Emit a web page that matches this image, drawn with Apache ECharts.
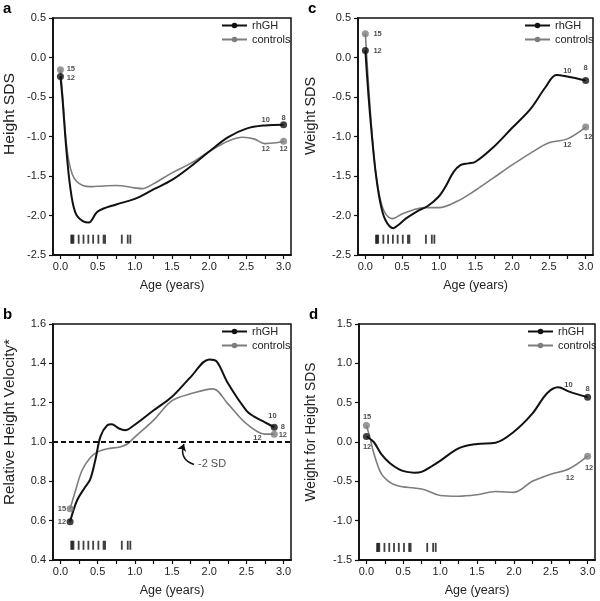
<!DOCTYPE html>
<html>
<head>
<meta charset="utf-8">
<script src="https://cdn.jsdelivr.net/npm/echarts@6/dist/echarts.min.js"></script>
<style>html,body{margin:0;padding:0;background:#fff;}#c{width:600px;height:601px;}</style>
</head>
<body>
<div id="c"></div>
<script>
// ---------- data ----------
const ageTickLabels = [0, 0.5, 1.0, 1.5, 2.0, 2.5, 3.0];
const ageTicks = [0, 0.25, 0.5, 0.75, 1.0, 1.25, 1.5, 1.75, 2.0, 2.25, 2.5, 2.75, 3.0];
const treatmentAges = [0.145, 0.16, 0.175, 0.245, 0.31, 0.375, 0.44, 0.51, 0.58, 0.6, 0.825, 0.905, 0.94];

// a: Height SDS
const aRhAge = [0, 0.03, 0.065, 0.1, 0.13, 0.17, 0.22, 0.3, 0.38, 0.5, 0.75, 1.0, 1.25, 1.5, 1.75, 2.0, 2.25, 2.5, 2.75, 3.0];
const aRhVal = [-0.24, -0.55, -1.0, -1.38, -1.63, -1.86, -2.0, -2.07, -2.09, -1.95, -1.86, -1.79, -1.67, -1.55, -1.38, -1.19, -1.01, -0.9, -0.86, -0.85];
const aCoAge = [0, 0.035, 0.07, 0.11, 0.16, 0.22, 0.3, 0.4, 0.5, 0.75, 1.0, 1.1, 1.25, 1.5, 1.75, 2.0, 2.25, 2.45, 2.6, 2.75, 2.9, 3.0];
const aCoVal = [-0.155, -0.55, -1.0, -1.3, -1.48, -1.57, -1.62, -1.635, -1.63, -1.62, -1.65, -1.66, -1.6, -1.46, -1.34, -1.19, -1.06, -1.01, -1.03, -1.09, -1.08, -1.06];
const aNotes = [[0.14, -0.146, '15'], [0.14, -0.265, '12'], [2.76, -0.796, '10'], [3.0, -0.766, '8'], [2.76, -1.155, '12'], [3.0, -1.155, '12']];

// c: Weight SDS
const cRhAge = [0, 0.04, 0.09, 0.14, 0.2, 0.27, 0.38, 0.45, 0.55, 0.7, 0.85, 1.0, 1.1, 1.2, 1.3, 1.4, 1.5, 1.75, 2.0, 2.25, 2.45, 2.6, 2.75, 3.0];
const cRhVal = [0.09, -0.45, -1.0, -1.45, -1.82, -2.05, -2.16, -2.12, -2.04, -1.95, -1.88, -1.76, -1.62, -1.45, -1.36, -1.34, -1.32, -1.13, -0.89, -0.65, -0.38, -0.22, -0.24, -0.29];
const cCoAge = [0, 0.04, 0.09, 0.14, 0.2, 0.27, 0.37, 0.5, 0.65, 0.8, 1.0, 1.25, 1.5, 1.75, 2.0, 2.25, 2.5, 2.75, 3.0];
const cCoVal = [0.3, -0.3, -0.95, -1.45, -1.78, -1.97, -2.04, -1.98, -1.93, -1.9, -1.9, -1.82, -1.68, -1.52, -1.36, -1.21, -1.08, -1.03, -0.88];
const cNotes = [[0.167, 0.297, '15'], [0.167, 0.086, '12'], [2.75, -0.167, '10'], [3.0, -0.134, '8'], [2.75, -1.105, '12'], [3.035, -1.0, '12']];

// b: Relative Height Velocity
const bRhAge = [0.13, 0.22, 0.33, 0.4, 0.47, 0.54, 0.63, 0.69, 0.78, 0.87, 0.99, 1.25, 1.5, 1.75, 2.0, 2.1, 2.25, 2.5, 2.6, 2.75, 2.875];
const bRhVal = [0.595, 0.7, 0.77, 0.81, 0.91, 1.03, 1.085, 1.09, 1.07, 1.06, 1.085, 1.16, 1.23, 1.33, 1.42, 1.41, 1.3, 1.16, 1.13, 1.1, 1.075];
const bCoAge = [0.13, 0.2, 0.29, 0.4, 0.5, 0.63, 0.8, 0.9, 1.0, 1.25, 1.5, 1.75, 2.05, 2.25, 2.5, 2.75, 2.875];
const bCoVal = [0.66, 0.75, 0.855, 0.92, 0.95, 0.966, 0.975, 0.99, 1.025, 1.11, 1.21, 1.245, 1.27, 1.195, 1.093, 1.04, 1.04];
const bNotes = [[0.02, 0.66, '15'], [0.02, 0.595, '12'], [2.85, 1.133, '10'], [2.99, 1.076, '8'], [2.65, 1.022, '12'], [2.99, 1.037, '12']];
const bThreshold = 1.0;
const bArrow = [[1.795, 0.886], [1.66, 0.99]];
const bArrowText = [[1.85, 0.89, '-2 SD']];

// d: Weight for Height SDS
const dRhAge = [0, 0.1, 0.2, 0.32, 0.45, 0.55, 0.65, 0.75, 0.9, 1.0, 1.25, 1.5, 1.75, 2.0, 2.25, 2.45, 2.6, 2.75, 3.0];
const dRhVal = [0.07, 0.0, -0.15, -0.27, -0.35, -0.38, -0.39, -0.38, -0.3, -0.24, -0.08, -0.025, -0.01, 0.13, 0.36, 0.62, 0.695, 0.64, 0.57];
const dCoAge = [0, 0.05, 0.1, 0.2, 0.3, 0.4, 0.5, 0.65, 0.8, 1.0, 1.25, 1.5, 1.75, 2.0, 2.25, 2.5, 2.75, 3.0];
const dCoVal = [0.21, 0.05, -0.14, -0.4, -0.5, -0.55, -0.57, -0.585, -0.61, -0.68, -0.69, -0.67, -0.63, -0.64, -0.5, -0.41, -0.34, -0.18];
const dNotes = [[0.01, 0.32, '15'], [0.01, -0.06, '12'], [2.74, 0.725, '10'], [3.0, 0.68, '8'], [2.76, -0.46, '12'], [3.02, -0.33, '12']];

// ---------- build ----------
const BLACK = '#111111', GREY = '#7d7d7d', TXT = '#222222';
const FONT = '"Liberation Sans", Arial, sans-serif';
const zip = (xs, ys) => xs.map((x, i) => [x, ys[i]]);

const panels = [
  {letter: 'a', grid: {left: 53, top: 18, width: 238, height: 237}, y: {min: -2.5, max: 0.5, interval: 0.5},
   title: {text: 'Height SDS', cx: 10, cy: 114, len: 82},
   rh: zip(aRhAge, aRhVal), co: zip(aCoAge, aCoVal), notes: aNotes, barY: -2.3, legend: {left: 216, top: 15}},
  {letter: 'c', grid: {left: 358, top: 18, width: 235, height: 237}, y: {min: -2.5, max: 0.5, interval: 0.5},
   title: {text: 'Weight SDS', cx: 311, cy: 116, len: 78},
   rh: zip(cRhAge, cRhVal), co: zip(cCoAge, cCoVal), notes: cNotes, barY: -2.3, legend: {left: 519, top: 15}},
  {letter: 'b', grid: {left: 53, top: 324, width: 238, height: 236}, y: {min: 0.4, max: 1.6, interval: 0.2},
   title: {text: 'Relative Height Velocity*', cx: 10, cy: 422, len: 166},
   rh: zip(bRhAge, bRhVal), co: zip(bCoAge, bCoVal), notes: bNotes, barY: 0.475, legend: {left: 216, top: 321}},
  {letter: 'd', grid: {left: 359, top: 324, width: 236, height: 236}, y: {min: -1.5, max: 1.5, interval: 0.5},
   title: {text: 'Weight for Height SDS', cx: 311, cy: 432, len: 139},
   rh: zip(dRhAge, dRhVal), co: zip(dCoAge, dCoVal), notes: dNotes, barY: -1.34, legend: {left: 522, top: 321}}
];

const measureCtx = document.createElement('canvas').getContext('2d');
const TITLE_FONT = '14px ' + FONT;
measureCtx.font = TITLE_FONT;

const option = {
  animation: false,
  backgroundColor: '#fff',
  textStyle: {fontFamily: FONT},
  grid: [], xAxis: [], yAxis: [], series: [], legend: [], graphic: []
};

panels.forEach((p, gi) => {
  option.grid.push(Object.assign({show: true, borderColor: BLACK, borderWidth: 1.5, backgroundColor: 'transparent'}, p.grid));
  option.xAxis.push({
    type: 'value', gridIndex: gi, min: -0.1, max: 3.1,
    name: 'Age (years)', nameLocation: 'middle', nameGap: 24,
    nameTextStyle: {fontSize: 12.5, color: TXT},
    axisLine: {onZero: false, lineStyle: {color: BLACK, width: 1.8}},
    axisTick: {customValues: ageTicks, length: 4, lineStyle: {color: BLACK, width: 1.2}},
    axisLabel: {customValues: ageTickLabels, formatter: v => v.toFixed(1), fontSize: 11, color: TXT, margin: 6},
    splitLine: {show: false}
  });
  option.yAxis.push({
    type: 'value', gridIndex: gi, min: p.y.min, max: p.y.max, interval: p.y.interval,
    axisLine: {onZero: false, lineStyle: {color: BLACK, width: 1.8}},
    axisTick: {length: 4, lineStyle: {color: BLACK, width: 1.2}},
    axisLabel: {formatter: v => v.toFixed(1), fontSize: 11, color: TXT, margin: 7},
    splitLine: {show: false}
  });
  const rhS = {
    name: 'rhGH', type: 'line', xAxisIndex: gi, yAxisIndex: gi, data: p.rh, smooth: 0.35,
    showSymbol: false, symbol: 'circle', symbolSize: 7, color: BLACK,
    lineStyle: {color: BLACK, width: 2}, z: 4
  };
  if (p.letter === 'b') {
    rhS.markLine = {silent: true, symbol: 'none', label: {show: false},
      lineStyle: {type: [5, 3], color: BLACK, width: 2}, data: [{yAxis: bThreshold}]};
  }
  option.series.push(rhS);
  option.series.push({
    name: 'controls', type: 'line', xAxisIndex: gi, yAxisIndex: gi, data: p.co, smooth: 0.35,
    showSymbol: false, symbol: 'circle', symbolSize: 7, color: GREY,
    lineStyle: {color: GREY, width: 1.6}, z: 3
  });
  option.series.push({
    name: 'rhGH-pts', type: 'scatter', xAxisIndex: gi, yAxisIndex: gi, symbolSize: 7,
    itemStyle: {color: BLACK}, z: 6,
    data: [p.rh[0], p.rh[p.rh.length - 1]]
  });
  option.series.push({
    name: 'controls-pts', type: 'scatter', xAxisIndex: gi, yAxisIndex: gi, symbolSize: 7,
    itemStyle: {color: GREY}, z: 5,
    data: [p.co[0], p.co[p.co.length - 1]]
  });
  option.series.push({
    name: 'notes', type: 'scatter', xAxisIndex: gi, yAxisIndex: gi, symbolSize: 0, z: 7,
    label: {show: true, position: 'inside', formatter: q => q.data[2], fontSize: 7.5, fontWeight: 'bold', color: TXT},
    data: p.notes
  });
  option.series.push({
    name: 'treat', type: 'scatter', xAxisIndex: gi, yAxisIndex: gi, symbol: 'rect', symbolSize: [1.8, 9],
    itemStyle: {color: BLACK}, z: 5,
    data: treatmentAges.map(a => [a, p.barY])
  });
  option.legend.push({
    data: ['rhGH', 'controls'], orient: 'vertical', left: p.legend.left, top: p.legend.top,
    itemWidth: 25, itemHeight: 7, itemGap: 3, selectedMode: false,
    textStyle: {fontSize: 11, color: TXT}
  });
  option.graphic.push({
    type: 'text', left: p.grid.left - 50, top: p.grid.top - 17,
    style: {text: p.letter, font: 'bold 15px ' + FONT, fill: '#000'}
  });
  const w = measureCtx.measureText(p.title.text).width;
  option.graphic.push({
    type: 'text', x: p.title.cx, y: p.title.cy, rotation: Math.PI / 2, scaleX: p.title.len / w,
    style: {text: p.title.text, font: TITLE_FONT, fill: TXT, align: 'center', verticalAlign: 'middle'}
  });
});

option.series.push({
  name: 'arrow', type: 'lines', coordinateSystem: 'cartesian2d', xAxisIndex: 2, yAxisIndex: 2,
  symbol: ['none', 'arrow'], symbolSize: 7, z: 6,
  lineStyle: {color: BLACK, width: 1.5, curveness: 0.5, opacity: 1},
  data: [{coords: bArrow}]
});
option.series.push({
  name: 'sdtext', type: 'scatter', xAxisIndex: 2, yAxisIndex: 2, symbolSize: 0, z: 7,
  label: {show: true, position: 'right', distance: 0, formatter: q => q.data[2], fontSize: 11, color: TXT},
  data: bArrowText
});

const chart = echarts.init(document.getElementById('c'), null, {renderer: 'canvas'});
chart.setOption(option);
</script>
</body>
</html>
